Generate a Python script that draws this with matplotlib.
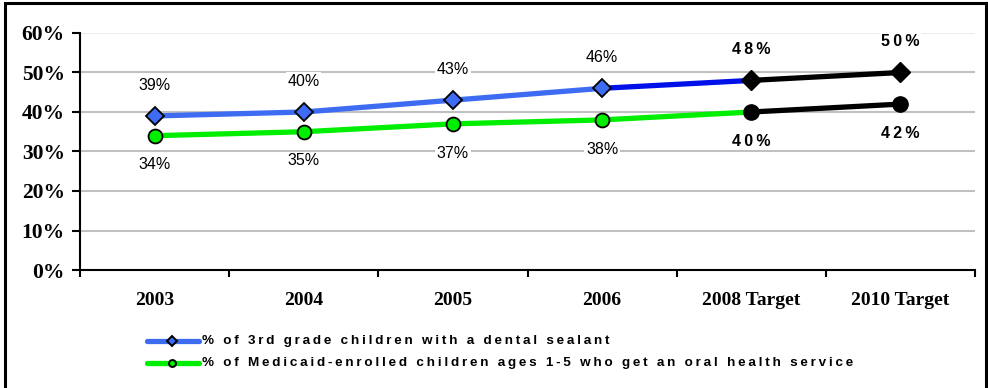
import matplotlib
matplotlib.use("Agg")
import matplotlib.pyplot as plt
from matplotlib.lines import Line2D
from matplotlib.patches import Rectangle

categories = ["2003", "2004", "2005", "2006", "2008 Target", "2010 Target"]
sealant = [39, 40, 43, 46, 48, 50]
medicaid = [34, 35, 37, 38, 40, 42]
legend_labels = ["% of 3rd grade children with a dental sealant",
                 "% of Medicaid-enrolled children ages 1-5 who get an oral health service"]
n_actual = 4  # first four points are measured, the rest are targets

BLUE = "#3d6bf2"
DARK_BLUE = "#0010e8"
GREEN = "#00ee00"
SANS = ["Liberation Sans", "DejaVu Sans"]
SERIF = ["Liberation Serif", "DejaVu Serif"]


def spaced(s, sp="\u2009"):
    return sp.join(s)


W, H = 988, 388
fig = plt.figure(figsize=(W / 100, H / 100), dpi=100)
ax = fig.add_axes([80 / W, 1 - 270 / H, (975 - 80) / W, (270 - 33) / H])

x = list(range(len(categories)))

# grid
for v in [10, 20, 30, 40, 50]:
    ax.axhline(v, color="#c0c0c0", lw=1.5, zorder=0)
ax.axhline(60, color="#ebebeb", lw=1.5, zorder=0)

lw = 3.8
# sealant line
ax.plot(x[:n_actual], sealant[:n_actual], color=BLUE, lw=lw, zorder=2, solid_capstyle="butt")
ax.plot(x[n_actual - 1:n_actual + 1], sealant[n_actual - 1:n_actual + 1], color=DARK_BLUE, lw=lw, zorder=2,
        solid_capstyle="butt")
ax.plot(x[n_actual:], sealant[n_actual:], color="black", lw=lw, zorder=2, solid_capstyle="butt")
ax.plot(x[:n_actual], sealant[:n_actual], ls="none", marker="D", ms=9, mfc=BLUE, mec="black", mew=1.3, zorder=4)
ax.plot(x[n_actual:], sealant[n_actual:], ls="none", marker="D", ms=10.5, mfc="black", mec="black", zorder=4)

# medicaid line
ax.plot(x[:n_actual + 1], medicaid[:n_actual + 1], color=GREEN, lw=lw, zorder=2, solid_capstyle="butt")
ax.plot(x[n_actual:], medicaid[n_actual:], color="black", lw=lw, zorder=2, solid_capstyle="butt")
ax.plot(x[:n_actual], medicaid[:n_actual], ls="none", marker="o", ms=10, mfc=GREEN, mec="black", mew=1.3, zorder=4)
ax.plot(x[n_actual:], medicaid[n_actual:], ls="none", marker="o", ms=11, mfc="black", mec="black", zorder=4)

box = dict(boxstyle="square,pad=0.1", fc="white", ec="none")
for i, v in enumerate(sealant):
    target = i >= n_actual
    ax.annotate(spaced(f"{v}%") if target else f"{v}%", (i, v), xytext=(0, 22),
                textcoords="offset points", ha="center", va="center", fontsize=11.5, family=SANS,
                fontweight="bold" if target else "normal", bbox=box, zorder=3)
for i, v in enumerate(medicaid):
    target = i >= n_actual
    ax.annotate(spaced(f"{v}%") if target else f"{v}%", (i, v), xytext=(0, -21),
                textcoords="offset points", ha="center", va="center", fontsize=11.5, family=SANS,
                fontweight="bold" if target else "normal", bbox=box, zorder=3)

ax.set_xlim(-0.5, len(categories) - 0.5)
ax.set_ylim(0, 60)
ax.set_yticks([0, 10, 20, 30, 40, 50, 60])
ax.set_yticklabels([f"{v}%" for v in [0, 10, 20, 30, 40, 50, 60]])
ax.set_xticks(x)
ax.set_xticklabels(categories)
ax.set_xticks([i - 0.5 for i in range(len(categories) + 1)], minor=True)
ax.tick_params(axis="x", which="major", length=0, pad=16)
ax.tick_params(axis="x", which="minor", length=5, width=1.5, direction="out")
ax.tick_params(axis="y", length=6, width=1.5, direction="out", pad=5)
for lab in ax.get_xticklabels():
    lab.set_family(SERIF)
    lab.set_fontweight("bold")
    lab.set_fontsize(14)
for lab in ax.get_yticklabels():
    lab.set_family(SERIF)
    lab.set_fontweight("bold")
    lab.set_fontsize(15.5)
for s in ["top", "right"]:
    ax.spines[s].set_visible(False)
for s in ["left", "bottom"]:
    ax.spines[s].set_linewidth(1.5)

# legend drawn by hand
rows = [(341, BLUE, "D", 5), (363, GREEN, "o", 5)]
for (yy, col, mk, ms), lab in zip(rows, legend_labels):
    fy = 1 - yy / H
    fig.add_artist(Line2D([147 / W, 199 / W], [fy, fy], color=col, lw=3.8, solid_capstyle="round",
                          transform=fig.transFigure))
    fig.add_artist(Line2D([172 / W], [fy], ls="none", marker=mk, ms=ms, mfc=col, mec="black", mew=1.4,
                          transform=fig.transFigure))
    fig.text(202 / W, fy, spaced(lab), ha="left", va="center", fontsize=9.7, fontweight="bold", family=SANS)

fig.add_artist(Rectangle((5 / W, -0.01), (986 - 5) / W, 1 - 3 / H + 0.01, fill=False, ec="black", lw=2.2,
                         transform=fig.transFigure))

fig.savefig("out.png", dpi=100)
